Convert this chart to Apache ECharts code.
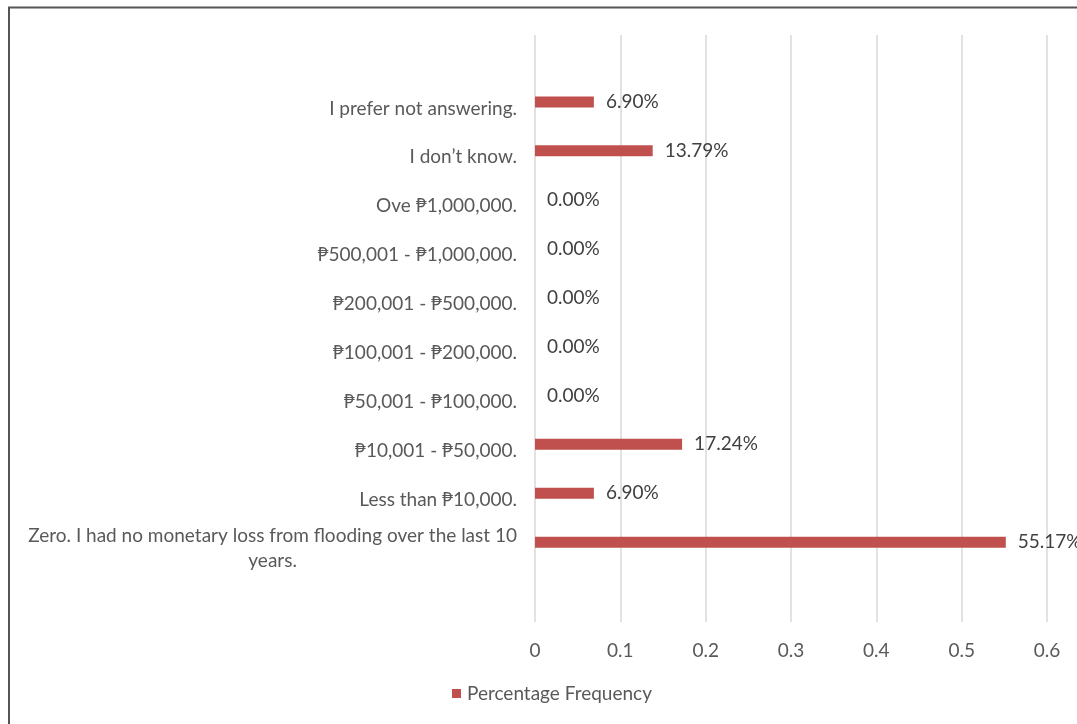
<!DOCTYPE html>
<html>
<head>
<meta charset="utf-8">
<script src="https://cdn.jsdelivr.net/npm/echarts@6/dist/echarts.min.js"></script>
<style>
  html, body { margin: 0; padding: 0; background: #fff; }
  #chart { width: 1077px; height: 724px; }
</style>
</head>
<body>
<div id="chart"></div>
<script>
// Monetary loss from flooding, last 10 years (share of respondents).
// Empty entries at both ends leave a blank band above and below the bars.
const categories = [
  '',
  'Zero. I had no monetary loss from flooding over the last 10\nyears.',
  'Less than ₱10,000.',
  '₱10,001 - ₱50,000.',
  '₱50,001 - ₱100,000.',
  '₱100,001 - ₱200,000.',
  '₱200,001 - ₱500,000.',
  '₱500,001 - ₱1,000,000.',
  'Ove ₱1,000,000.',
  'I don’t know.',
  'I prefer not answering.',
  ''
];
const percentageFrequency = [null, 0.5517, 0.0690, 0.1724, 0, 0, 0, 0, 0, 0.1379, 0.0690, null];
const valueTicks = { min: 0, max: 0.6, interval: 0.1 };

const chart = echarts.init(document.getElementById('chart'));
chart.setOption({
  animation: false,
  textStyle: { fontFamily: 'Lato, "Open Sans", sans-serif' },
  graphic: [{
    type: 'rect',
    shape: { x: 9, y: 7.5, width: 1200, height: 900 },
    style: { fill: 'none', stroke: '#555', lineWidth: 2 },
    silent: true
  }],
  grid: { left: 535, right: 30, top: 35, bottom: 102, containLabel: false },
  legend: {
    data: ['Percentage Frequency'],
    left: 452, top: 684, padding: 0,
    itemWidth: 9, itemHeight: 9, itemGap: 10,
    icon: 'rect',
    textStyle: { color: '#595959', fontSize: 19, padding: [0, 0, 0, 1] }
  },
  xAxis: {
    type: 'value',
    min: valueTicks.min, max: valueTicks.max, interval: valueTicks.interval,
    axisLine: { show: false },
    axisTick: { show: false },
    axisLabel: { color: '#595959', fontSize: 19, margin: 19 },
    splitLine: { show: true, lineStyle: { color: '#d9d9d9', width: 1.5 } }
  },
  yAxis: {
    type: 'category',
    data: categories,
    axisLine: { show: false },
    axisTick: { show: false },
    axisLabel: {
      color: '#595959', fontSize: 19, margin: 18, lineHeight: 25,
      formatter: v => v.split('\n').map(s => '{c|' + s + '}').join('\n'),
      rich: { c: { align: 'center', color: '#595959', fontSize: 19, lineHeight: 25 } }
    }
  },
  series: [{
    name: 'Percentage Frequency',
    type: 'bar',
    data: percentageFrequency,
    barWidth: 11,
    barGap: '18%',
    itemStyle: { color: '#C0504D' },
    label: {
      show: true, position: 'right', distance: 12,
      color: '#404040', fontSize: 19,
      formatter: p => (p.value * 100).toFixed(2) + '%'
    }
  }, {
    name: 'spacer',
    type: 'bar',
    data: categories.map(() => null),
    barWidth: 11
  }]
});
</script>
</body>
</html>
